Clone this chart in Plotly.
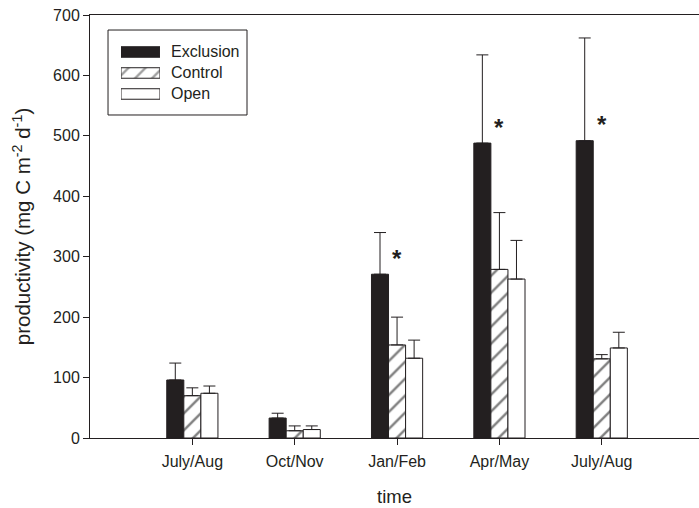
import plotly.graph_objects as go

# Sampling periods (two separate July/Aug periods)
periods = ["July/Aug", "Oct/Nov", "Jan/Feb", "Apr/May", "July/Aug"]
positions = [1, 2, 3, 4, 5]

# Mean productivity (mg C m-2 d-1) and standard errors per treatment
exclusion_mean = [96, 33, 271, 488, 492]
exclusion_se = [28, 8, 69, 146, 170]
control_mean = [70, 12, 154, 279, 131]
control_se = [13, 8, 46, 94, 7]
open_mean = [74, 14, 132, 263, 149]
open_se = [12, 6, 30, 64, 26]

# Periods where exclusion differs significantly
significant = [False, False, True, True, True]

# Legend entries, top to bottom
treatments = ["Exclusion", "Control", "Open"]

FONT = "Liberation Sans, Arial, sans-serif"
INK = "#231f20"
HATCH = dict(shape="/", fgcolor="black", bgcolor="white", size=12, solidity=0.2)


def err(se):
    return dict(type="data", array=se, arrayminus=[0] * len(se), symmetric=False,
                color=INK, thickness=1, width=6)


fig = go.Figure()
fig.add_trace(go.Bar(
    name="Exclusion", x=positions, y=exclusion_mean, error_y=err(exclusion_se),
    marker=dict(color=INK, line=dict(color=INK, width=1)),
))
fig.add_trace(go.Bar(
    name="Control", x=positions, y=control_mean, error_y=err(control_se),
    marker=dict(color="white", line=dict(color=INK, width=1), pattern=HATCH),
))
fig.add_trace(go.Bar(
    name="Open", x=positions, y=open_mean, error_y=err(open_se),
    marker=dict(color="white", line=dict(color=INK, width=1)),
))

# Legend swatches drawn as wide bars on a small inset axis
fig.add_trace(go.Bar(
    x=[1, 1, 1], y=treatments, orientation="h", xaxis="x2", yaxis="y2",
    marker=dict(color=[INK, "white", "white"], line=dict(color=INK, width=1),
                pattern=dict(shape=["", "/", ""], fgcolor="black", bgcolor="white",
                             size=12, solidity=0.2)),
    hoverinfo="skip", showlegend=False,
))
for name in treatments:
    fig.add_annotation(x=0.1297, y=name, xref="paper", yref="y2", text=name,
                       showarrow=False, xanchor="left", yanchor="middle",
                       font=dict(family=FONT, size=16, color=INK))
fig.add_shape(type="rect", xref="paper", yref="paper",
              x0=0.0296, x1=0.2578, y0=0.7636, y1=0.9645,
              line=dict(color=INK, width=1), fillcolor="rgba(0,0,0,0)", layer="below")

for xp, ym, sig in zip(positions, exclusion_mean, significant):
    if sig:
        fig.add_annotation(x=xp, y=ym, text="<b>*</b>", showarrow=False,
                           xanchor="center", yanchor="middle", yshift=16,
                           font=dict(family=FONT, size=24, color=INK))

fig.update_layout(
    width=699, height=508,
    margin=dict(l=90, r=0, t=15, b=70),
    paper_bgcolor="white", plot_bgcolor="white",
    barmode="group", bargap=0.5, bargroupgap=0,
    font=dict(family=FONT, size=16, color=INK),
    showlegend=False,
    xaxis=dict(
        range=[0, 5.95], tickmode="array", tickvals=positions, ticktext=periods,
        showline=True, linecolor=INK, linewidth=1, mirror=True,
        ticks="outside", ticklen=6, tickcolor=INK, showgrid=False, zeroline=False,
        tickfont=dict(family=FONT, size=16, color=INK), ticklabelstandoff=3,
        title=dict(text="time", font=dict(family=FONT, size=18.5, color=INK), standoff=20),
    ),
    yaxis=dict(
        range=[0, 700], tickvals=[0, 100, 200, 300, 400, 500, 600, 700],
        showline=True, linecolor=INK, linewidth=1,
        ticks="outside", ticklen=6, tickcolor=INK, showgrid=False, zeroline=False,
        tickfont=dict(family=FONT, size=16, color=INK),
        title=dict(text="productivity (mg C m<sup>-2</sup> d<sup>-1</sup>)",
                   font=dict(family=FONT, size=20.5, color=INK), standoff=16),
    ),
    xaxis2=dict(domain=[0.0509, 0.1149], anchor="y2", range=[0, 1],
                visible=False, fixedrange=True),
    yaxis2=dict(domain=[0.7884, 0.9374], anchor="x2", type="category",
                categoryorder="array", categoryarray=treatments[::-1],
                visible=False, fixedrange=True),
)

fig.write_html("out.html")
